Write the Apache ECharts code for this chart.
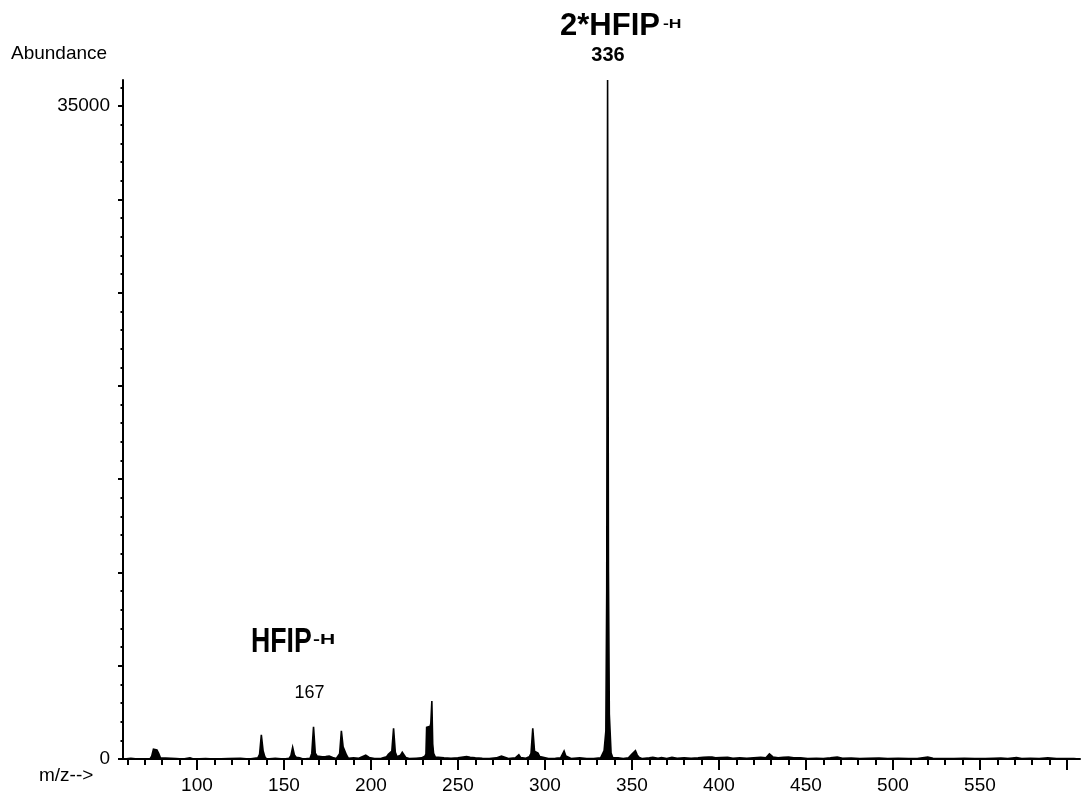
<!DOCTYPE html>
<html>
<head>
<meta charset="utf-8">
<script src="https://cdn.jsdelivr.net/npm/echarts@6/dist/echarts.min.js"></script>
<style>
  html, body { margin: 0; padding: 0; background: #ffffff; }
  #chart { width: 1084px; height: 796px; }
</style>
</head>
<body>
<div id="chart"></div>
<script>
// Negative-ion mass spectrum: m/z positions and their abundances (profile points)
const mzValues = [
  58, 62, 66, 73, 74, 75, 76, 77, 78, 79, 80, 88, 92, 96, 98, 105, 110, 118, 125, 130,
  135, 136, 137, 138, 139, 140, 145, 150, 153, 154, 155, 156, 157, 158, 159, 161,
  165, 166, 167, 168, 169, 170, 172, 174, 176, 178, 180,
  181, 182, 183, 184, 185, 186, 187, 190, 193, 195, 197, 199, 202, 206,
  209, 210, 211, 212, 213, 214, 215, 216, 217, 218, 219, 220, 222, 226,
  229, 230, 231, 231.6, 232, 233, 234, 234.4, 235, 235.5, 236, 237, 238,
  242, 246, 250, 253, 255, 257, 260, 264, 268,
  272, 275, 276, 279, 283, 285, 286, 289,
  291, 292, 293, 294, 295, 296, 297, 298, 302, 306, 309, 310, 311, 312, 313, 315,
  320, 324, 328, 332, 333, 334, 335, 335.5, 336, 336.5, 337, 338, 339, 342, 345,
  348, 349, 350, 351, 352, 353, 354, 356, 360, 362, 365, 367, 370, 373, 376, 380, 384, 388,
  391, 394, 396, 398, 401, 405, 408, 412, 416, 420, 424, 427, 429, 431, 434, 437, 440, 443,
  447, 451, 456, 460, 464, 468, 471, 476, 481, 486, 492, 497, 503, 509, 514, 520, 523, 529,
  535, 541, 547, 553, 558, 562, 566, 571, 574, 579, 584, 589, 594, 600, 604, 607
];
const abundanceValues = [
  0, 40, 0, 0, 150, 520, 570, 480, 300, 60, 0, 30, 0, 60, 0, 30, 0, 20, 40, 0,
  60, 250, 1290, 450, 120, 0, 40, 0, 40, 180, 630, 220, 90, 100, 60, 0,
  40, 300, 1730, 320, 160, 80, 120, 130, 160, 80, 20,
  120, 280, 1515, 650, 590, 200, 40, 60, 40, 120, 200, 80, 20, 40,
  120, 250, 330, 420, 1645, 360, 120, 90, 200, 360, 340, 80, 20, 40,
  60, 120, 150, 260, 1700, 1785, 1750, 1900, 3110, 800, 300, 100, 40,
  60, 40, 70, 110, 130, 90, 60, 40, 30,
  60, 160, 60, 30, 60, 230, 80, 40,
  120, 300, 1645, 420, 330, 320, 130, 40, 30, 40, 60, 160, 430, 160, 80, 30,
  60, 30, 20, 60, 120, 450, 1500, 9000, 36400, 10000, 2400, 320, 60, 70, 20,
  60, 100, 260, 360, 450, 220, 90, 20, 60, 90, 40, 80, 30, 90, 40, 70, 40, 60,
  90, 100, 110, 60, 80, 90, 40, 60, 40, 70, 90, 60, 270, 110, 60, 90, 100, 70,
  60, 30, 40, 30, 60, 110, 40, 50, 30, 40, 50, 30, 40, 30, 30, 110, 40, 30,
  30, 40, 20, 30, 40, 50, 30, 80, 30, 40, 30, 60, 20, 30, 20, 0
];

// Axis tick and label positions
const xLabelValues = [100, 150, 200, 250, 300, 350, 400, 450, 500, 550];
const xMajorTicks = [100, 150, 200, 250, 300, 350, 400, 450, 500, 550, 600];
const xMinorTicks = [];
for (let v = 60; v <= 600; v += 10) xMinorTicks.push(v);
const yLabelValues = [0, 35000];
const yMajorTicks = [0, 5000, 10000, 15000, 20000, 25000, 30000, 35000];
const yMinorTicks = [];
for (let v = 0; v <= 36000; v += 1000) yMinorTicks.push(v);

const X_MIN = 57.5, X_MAX = 607.5;
const Y_MIN = 0, Y_MAX = 36400;

const FONT = '"Liberation Sans", Arial, Helvetica, sans-serif';
const INK = '#000000';

const spectrum = mzValues.map((m, i) => [m, abundanceValues[i]]);

const chart = echarts.init(document.getElementById('chart'), null, { renderer: 'canvas' });

function textEl(text, x, y, font, align, sx, sy) {
  return {
    type: 'text',
    x: x, y: y,
    scaleX: sx || 1, scaleY: sy || 1,
    silent: true,
    style: {
      text: text, font: font, fill: INK,
      align: align || 'left', verticalAlign: 'middle',
      textAlign: align || 'left', textVerticalAlign: 'middle'
    }
  };
}

const option = {
  backgroundColor: '#ffffff',
  animation: false,
  grid: { left: 123, right: 4, top: 80, bottom: 37, containLabel: false },
  xAxis: [
    {
      type: 'value', min: X_MIN, max: X_MAX, position: 'bottom',
      axisLine: { show: true, onZero: false, lineStyle: { color: INK, width: 2 } },
      axisTick: { show: true, inside: false, length: 11, customValues: xMajorTicks,
                  lineStyle: { color: INK, width: 2 } },
      axisLabel: { show: true, customValues: xLabelValues, margin: 17, color: INK,
                   fontSize: 19, fontFamily: FONT, formatter: v => String(v) },
      splitLine: { show: false }
    },
    {
      type: 'value', min: X_MIN, max: X_MAX, position: 'bottom',
      axisLine: { show: false, onZero: false },
      axisTick: { show: true, inside: false, length: 6, customValues: xMinorTicks,
                  lineStyle: { color: INK, width: 2 } },
      axisLabel: { show: false },
      splitLine: { show: false }
    }
  ],
  yAxis: [
    {
      type: 'value', min: Y_MIN, max: Y_MAX, position: 'left',
      axisLine: { show: true, onZero: false, lineStyle: { color: INK, width: 2 } },
      axisTick: { show: true, inside: false, length: 5, customValues: yMajorTicks,
                  lineStyle: { color: INK, width: 2 } },
      axisLabel: { show: true, customValues: yLabelValues, margin: 13, color: INK,
                   fontSize: 19, fontFamily: FONT, formatter: v => String(v) },
      splitLine: { show: false }
    },
    {
      type: 'value', min: Y_MIN, max: Y_MAX, position: 'left',
      axisLine: { show: false, onZero: false },
      axisTick: { show: true, inside: false, length: 2.5, customValues: yMinorTicks,
                  lineStyle: { color: INK, width: 2 } },
      axisLabel: { show: false },
      splitLine: { show: false }
    }
  ],
  series: [
    {
      name: 'Abundance',
      type: 'line',
      xAxisIndex: 0, yAxisIndex: 0,
      data: spectrum,
      showSymbol: false,
      symbol: 'none',
      clip: true,
      lineStyle: { color: INK, width: 1.6, join: 'miter' },
      areaStyle: { color: INK, opacity: 1, origin: 'start' },
      z: 3
    }
  ],
  graphic: [
    textEl('Abundance', 11, 53.5, '19px ' + FONT, 'left'),
    textEl('m/z-->', 39, 775.5, '19px ' + FONT, 'left'),
    textEl('2*HFIP', 560, 26, 'bold 31px ' + FONT, 'left'),
    textEl('-H', 663, 24.5, 'bold 13px ' + FONT, 'left', 1.35, 1),
    textEl('336', 608, 55.5, 'bold 20px ' + FONT, 'center'),
    textEl('HFIP', 251, 642, 'bold 29px ' + FONT, 'left', 0.92, 1.2),
    textEl('-H', 313, 640, 'bold 15px ' + FONT, 'left', 1.4, 1),
    textEl('167', 309.5, 693, '18px ' + FONT, 'center')
  ]
};

chart.setOption(option);
</script>
</body>
</html>
